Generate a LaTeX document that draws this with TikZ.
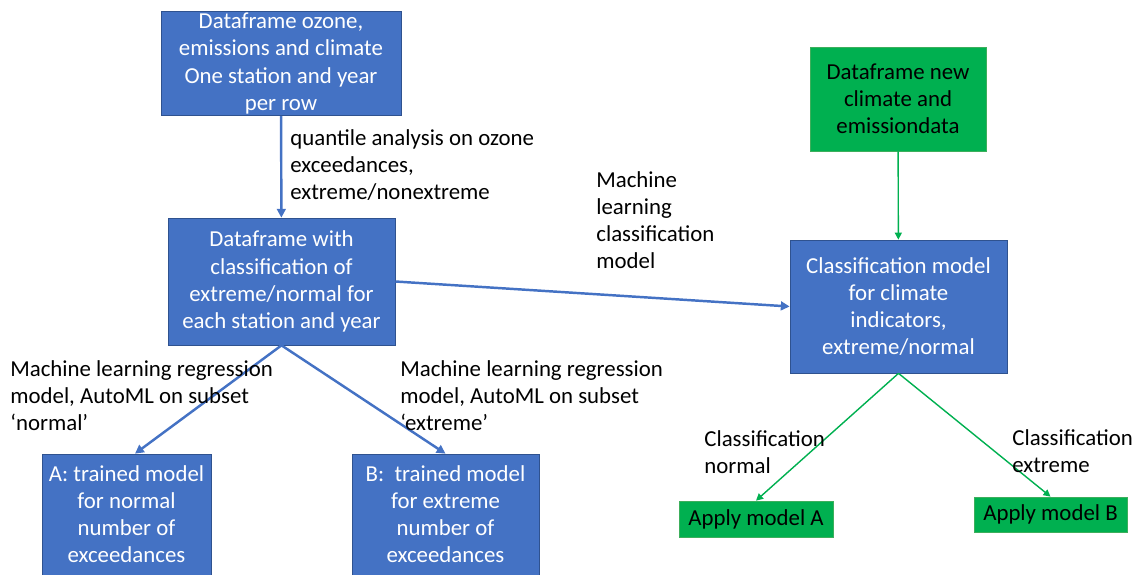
\documentclass[tikz,border=0pt]{standalone}
\usepackage{fontspec}
\setmainfont{Carlito}
\usetikzlibrary{arrows.meta}
\definecolor{officeblue}{HTML}{4472C4}
\definecolor{blueedge}{HTML}{2F528F}
\definecolor{officegreen}{HTML}{00B050}
\definecolor{greenedge}{HTML}{3DAF5C}

\begin{document}
\begin{tikzpicture}[>={Triangle[length=5pt,width=5pt]},
  font=\fontsize{13}{15.4}\selectfont,
  bluebox/.style={draw=blueedge,fill=officeblue,text=white,align=center,inner sep=1pt},
  greenbox/.style={draw=greenedge,fill=officegreen,text=black,align=center,inner sep=1pt},
  lbl/.style={align=left,anchor=north west,inner sep=0pt},
  bluearrow/.style={->,draw=officeblue,line width=1.4pt},
  greenarrow/.style={->,draw=officegreen,line width=0.8pt,>={Triangle[length=4pt,width=4pt]}}]
  \useasboundingbox (0,0) rectangle (22.84,-11.5);

  % Training side
  \node[bluebox,minimum width=4.8cm,minimum height=2.06cm] (ozone) at (5.62,-1.27) {Dataframe ozone,\\emissions and climate\\One station and year\\per row};
  \node[bluebox,minimum width=4.54cm,minimum height=2.54cm] (classdf) at (5.63,-5.63) {Dataframe with\\classification of\\extreme/normal for\\each station and year};
  \node[bluebox,minimum width=3.38cm,minimum height=2.42cm] (modelA) at (2.53,-10.29) {A: trained model\\for normal\\number of\\exceedances};
  \node[bluebox,minimum width=3.74cm,minimum height=2.42cm] (modelB) at (8.91,-10.29) {B:\ \ trained model\\for extreme\\number of\\exceedances};

  % Prediction side
  \node[greenbox,minimum width=3.52cm,minimum height=2.08cm] (newdf) at (17.96,-1.98) {Dataframe new\\climate and\\emissiondata};
  \node[bluebox,minimum width=4.34cm,minimum height=2.66cm] (classmodel) at (17.97,-6.13) {Classification model\\for climate\\indicators,\\extreme/normal};
  \node[greenbox,minimum width=3.08cm,minimum height=0.72cm] (applyA) at (15.12,-10.38) {Apply model A};
  \node[greenbox,minimum width=3.06cm,minimum height=0.70cm] (applyB) at (21.01,-10.29) {Apply model B};

  % Blue flows
  \draw[bluearrow] (ozone) -- (classdf);
  \draw[bluearrow] (classdf.east) -- (classmodel.west);
  \draw[bluearrow] (classdf.south) -- ([xshift=0.17cm]modelA.north);
  \draw[bluearrow] (classdf.south) -- (modelB.north);

  % Green flows
  \draw[greenarrow] (newdf) -- (classmodel);
  \draw[greenarrow] (classmodel.south) -- (applyA.north);
  \draw[greenarrow] (classmodel.south) -- (applyB.north);

  % Labels
  \node[lbl] (quant) at (5.80,-2.58) {quantile analysis on ozone\\exceedances,\\extreme/nonextreme};
  \node[lbl] (mlclass) at (11.92,-3.42) {Machine\\learning\\classification\\model};
  \node[lbl] (regnormal) at (0.20,-7.20) {Machine learning regression\\model, AutoML on subset\\‘normal’};
  \node[lbl] (regextreme) at (8.00,-7.20) {Machine learning regression\\model, AutoML on subset\\‘extreme’};
  \node[lbl] (clnormal) at (14.08,-8.60) {Classification\\normal};
  \node[lbl] (clextreme) at (20.24,-8.58) {Classification\\extreme};
\end{tikzpicture}
\end{document}
